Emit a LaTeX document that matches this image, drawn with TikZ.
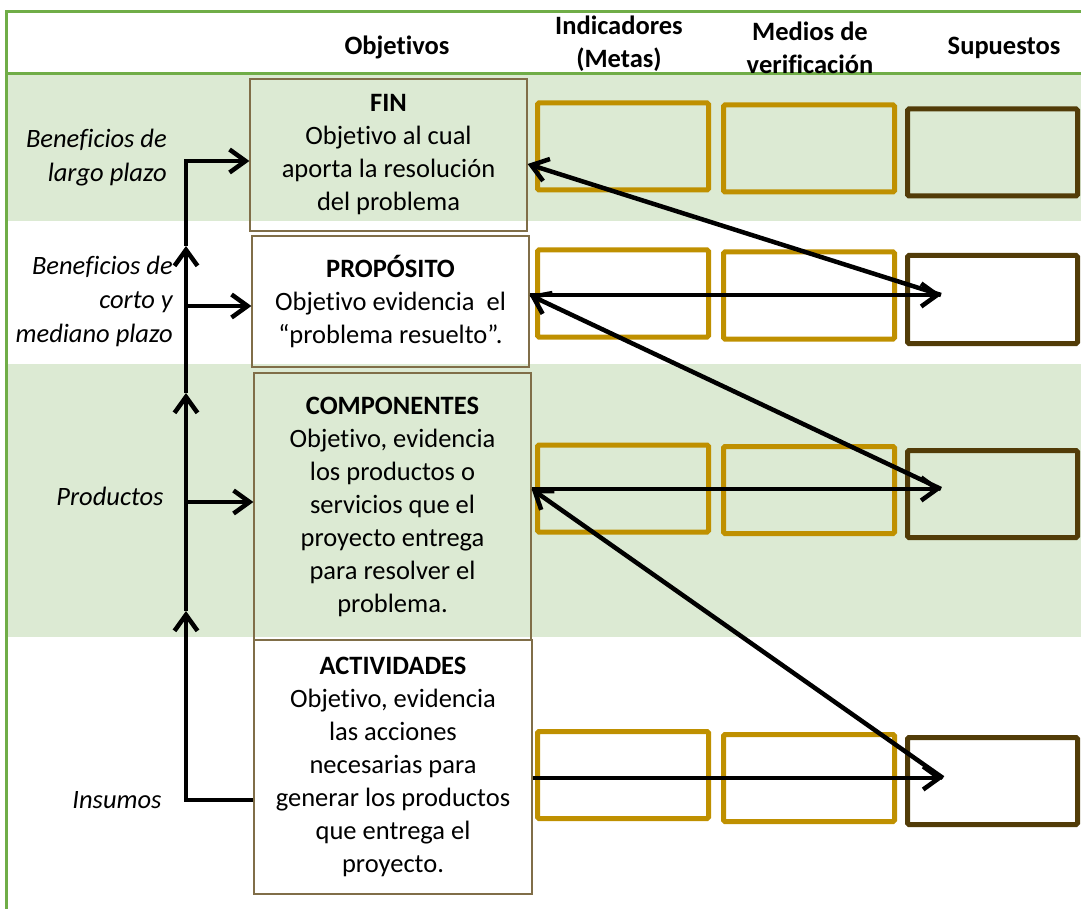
\documentclass[tikz,border=0pt]{standalone}
\usepackage{fontspec}
\setmainfont{Carlito}[Ligatures=NoCommon]
\usetikzlibrary{arrows.meta}

\definecolor{bandgreen}{RGB}{220,234,211}
\definecolor{framegreen}{RGB}{112,173,71}
\definecolor{cellgold}{RGB}{191,144,0}
\definecolor{cellbrown}{RGB}{82,60,8}
\definecolor{objline}{RGB}{128,110,72}

\begin{document}
\begin{tikzpicture}[x=1pt,y=-1pt,
  headtxt/.style={inner sep=0pt, align=center, font=\fontsize{26.5}{33}\selectfont\bfseries},
  sidetxt/.style={inner sep=0pt, align=right, font=\fontsize{26.5}{34}\selectfont\itshape},
  objbox/.style={draw=objline, line width=1.2pt, inner sep=0pt, align=center,
    font=\fontsize{26.5}{33}\selectfont, minimum width=277pt},
  cell/.style={draw=#1, line width=5pt, rounded corners=1.5pt, inner sep=0pt,
    minimum width=171pt, minimum height=87pt},
  conn/.style={line width=4.5pt, line join=miter,
    -{Straight Barb[length=16pt,width=23pt]}},
]
\useasboundingbox (0,0) rectangle (1081,909);

% row bands
\fill[bandgreen] (6,75) rectangle (1081,221);
\fill[bandgreen] (6,364) rectangle (1081,637);

% frame
\draw[framegreen, line width=3pt] (6,909) -- (6,11.5) -- (1081,11.5);
\draw[framegreen, line width=3pt] (6,73.5) -- (1081,73.5);

% column headings
\node[headtxt] (hobj) at (397,47) {Objetivos};
\node[headtxt] (hind) at (619,44) {Indicadores\\(Metas)};
\node[headtxt] (hmed) at (810,48) {Medios de\\verificación};
\node[headtxt] (hsup) at (1004,48) {Supuestos};

% row labels
\node[sidetxt, anchor=east] (lfin) at (167,158) {Beneficios de\\largo plazo};
\node[sidetxt, anchor=east] (lprop) at (173,301) {Beneficios de\\corto y\\mediano plazo};
\node[sidetxt] (lcomp) at (110,496) {Productos};
\node[sidetxt] (lact) at (117,800) {Insumos};

% objectives column
\node[objbox, minimum height=152pt] (fin) at (388.5,155)
  {\textbf{FIN}\\Objetivo al cual\\aporta la resolución\\del problema};
\node[objbox, minimum height=131pt] (prop) at (390.5,301.5)
  {\textbf{PROPÓSITO}\\Objetivo evidencia~ el\\“problema resuelto”.};
\node[objbox, minimum height=267pt] (comp) at (392.5,506.5)
  {\textbf{COMPONENTES}\\Objetivo, evidencia\\los productos o\\servicios que el\\proyecto entrega\\para resolver el\\problema.};
\node[objbox, minimum height=254pt, minimum width=278pt] (act) at (393,767)
  {\textbf{ACTIVIDADES}\\Objetivo, evidencia\\las acciones\\necesarias para\\generar los productos\\que entrega el\\proyecto.};

% indicator, verification and assumption cells
\node[cell=cellgold] (ind1) at (623,146.5) {};
\node[cell=cellgold] (med1) at (809,148.5) {};
\node[cell=cellbrown, minimum width=170pt] (sup1) at (992.5,152.5) {};
\node[cell=cellgold] (ind2) at (623,293.5) {};
\node[cell=cellgold] (med2) at (809,295.5) {};
\node[cell=cellbrown, minimum width=170pt, minimum height=88pt] (sup2) at (992.5,299.5) {};
\node[cell=cellgold] (ind3) at (623,488.5) {};
\node[cell=cellgold] (med3) at (809,490) {};
\node[cell=cellbrown, minimum width=170pt] (sup3) at (992.5,494) {};
\node[cell=cellgold] (ind4) at (623,775) {};
\node[cell=cellgold] (med4) at (809,778) {};
\node[cell=cellbrown, minimum width=170pt] (sup4) at (992.5,781) {};

% vertical chain on the left
\coordinate (sp0) at (186,800);
\coordinate (sp1) at (186,611);
\coordinate (sp2) at (186,393);
\coordinate (sp3) at (186,246);
\coordinate (sp4) at (186,161);
\coordinate (bp) at (186,306);
\coordinate (bc) at (186,502);

\draw[conn] (act.west |- sp0) -- (sp0) -- (sp1);
\draw[conn] (sp1) -- (sp2);
\draw[conn] (sp2) -- (sp3);
\draw[conn] (sp3) -- (sp4) -- (sp4 -| fin.west);
\draw[conn] (bp) -- (bp -| prop.west);
\draw[conn] (bc) -- (bc -| comp.west);

% links to the assumptions column
\coordinate (s2) at (941,295);
\coordinate (s3) at (941,489);
\coordinate (s4) at (943,778);
\coordinate (yf) at (0,164);

\draw[conn] (prop.east |- s2) -- (s2);
\draw[conn] (comp.east |- s3) -- (s3);
\draw[conn] (act.east |- s4) -- (s4);
\draw[conn] (s2) -- (fin.east |- yf);
\draw[conn] (s3) -- (prop.east |- s2);
\draw[conn] (s4) -- (comp.east |- s3);
\end{tikzpicture}
\end{document}
